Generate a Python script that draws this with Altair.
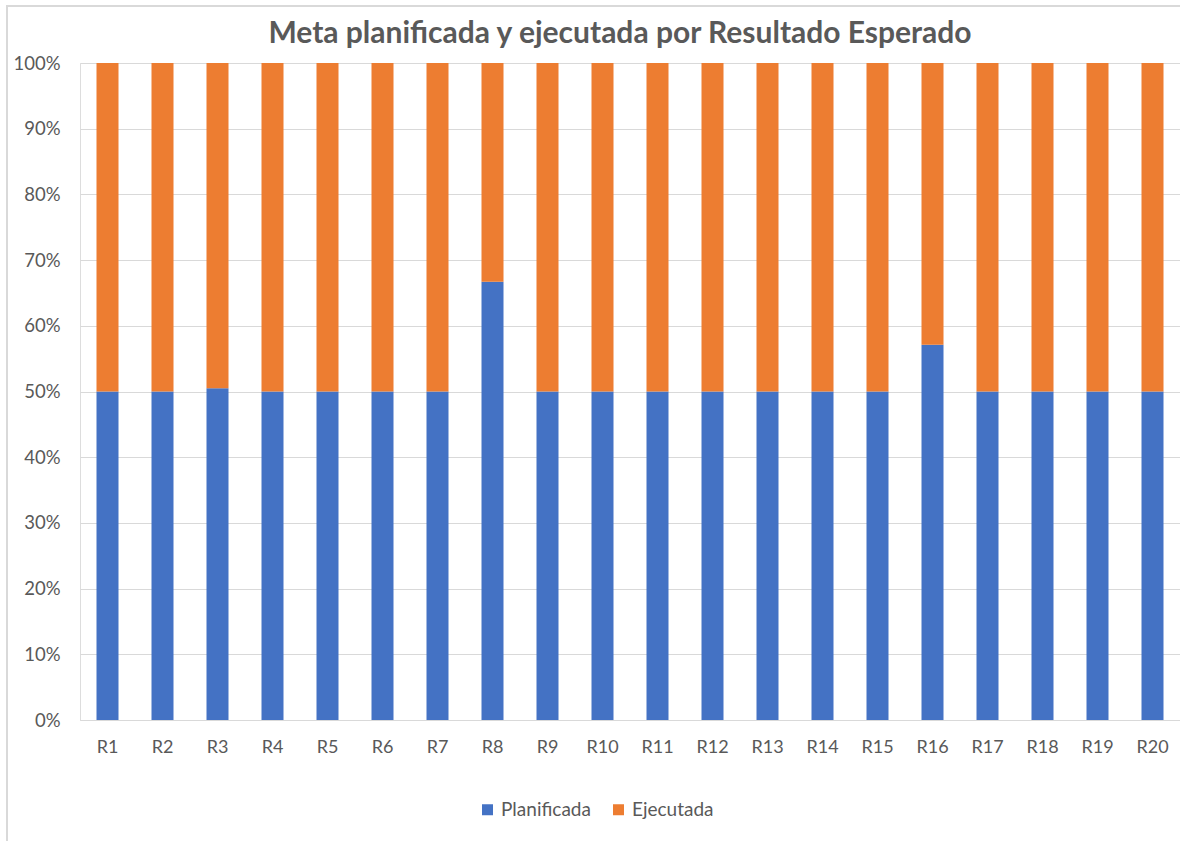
import altair as alt
import pandas as pd

# Share of each expected result (percent of the stacked total)
resultados = ["R1", "R2", "R3", "R4", "R5", "R6", "R7", "R8", "R9", "R10",
              "R11", "R12", "R13", "R14", "R15", "R16", "R17", "R18", "R19", "R20"]
planificada = [50.0, 50.0, 50.5, 50.0, 50.0, 50.0, 50.0, 66.7, 50.0, 50.0,
               50.0, 50.0, 50.0, 50.0, 50.0, 57.1, 50.0, 50.0, 50.0, 50.0]
ejecutada = [50.0, 50.0, 49.5, 50.0, 50.0, 50.0, 50.0, 33.3, 50.0, 50.0,
             50.0, 50.0, 50.0, 50.0, 50.0, 42.9, 50.0, 50.0, 50.0, 50.0]
series = ["Planificada", "Ejecutada"]
colores = ["#4472C4", "#ED7D31"]

rows = []
for r, p, e in zip(resultados, planificada, ejecutada):
    rows.append({"resultado": r, "serie": "Planificada", "valor": p, "orden": 0})
    rows.append({"resultado": r, "serie": "Ejecutada", "valor": e, "orden": 1})
df = pd.DataFrame(rows)

FONT = "Lato"
TXT = "#595959"
GRID = "#D9D9D9"

bars = alt.Chart(df).mark_bar().encode(
    x=alt.X("resultado:N", sort=resultados, title=None,
            scale=alt.Scale(paddingInner=0.6, paddingOuter=0.3),
            axis=alt.Axis(labelAngle=0, ticks=False, tickSize=0, labelPadding=18,
                          domainColor=GRID, labelFontSize=18, labelColor=TXT,
                          labelFont=FONT)),
    y=alt.Y("valor:Q", stack="normalize", title=None,
            scale=alt.Scale(domain=[0, 1]),
            axis=alt.Axis(format=".0%", values=[i / 10 for i in range(11)],
                          ticks=False, tickSize=0, domain=False, labelPadding=20,
                          grid=True, gridColor=GRID, gridWidth=1,
                          labelFontSize=18.5, labelColor=TXT, labelFont=FONT)),
    color=alt.Color("serie:N", title=None,
                    scale=alt.Scale(domain=series, range=colores),
                    legend=alt.Legend(orient="none", legendX=398, legendY=737,
                                      direction="horizontal", symbolType="square",
                                      symbolSize=121, symbolStrokeWidth=0,
                                      labelFontSize=19, labelColor=TXT,
                                      labelFont=FONT, columnPadding=18,
                                      labelOffset=4)),
    order=alt.Order("orden:Q", sort="ascending"),
)

# light frame around the whole chart
frame = alt.Chart(pd.DataFrame({"k": [0]})).mark_rect(
    fill=None, stroke=GRID, strokeWidth=2
).encode(
    x=alt.value(-73), x2=alt.value(1130),
    y=alt.value(-57), y2=alt.value(800),
)

# the frame extends above the plot, so the title is pulled back down inside it
chart = alt.layer(frame, bars).properties(
    width=1100,
    height=657,
    title=alt.TitleParams("Meta planificada y ejecutada por Resultado Esperado",
                          font=FONT, fontSize=30, fontWeight="bold", color=TXT,
                          anchor="middle", offset=-44, dx=-10),
    padding={"left": 80, "top": 63, "right": 0, "bottom": 121},
    autosize=alt.AutoSizeParams(type="none"),
).configure_view(stroke=None).configure(background="white")

chart.save("out.html", embed_options={"renderer": "svg", "actions": False})
